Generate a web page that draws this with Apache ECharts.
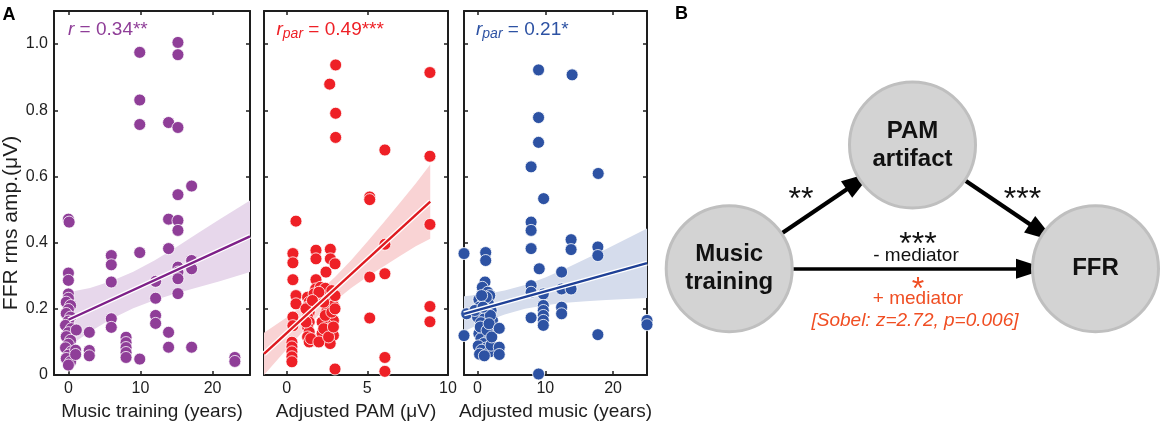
<!DOCTYPE html>
<html>
<head>
<meta charset="utf-8">
<script src="https://cdn.jsdelivr.net/npm/echarts@6/dist/echarts.min.js"></script>
</head>
<body style="margin:0">
<div id="container" style="width:1170px;height:422px"></div>
<script>
var FONT = '"Liberation Sans", Arial, sans-serif';

// ---- panel A: scatter values [x, y] ----
var trainingPts = [
  [0,0.471],[0.1,0.462],[0,0.308],[0,0.286],[0,0.245],[0,0.232],[-0.3,0.22],[0.3,0.21],
  [0,0.198],[-0.3,0.186],[0.3,0.175],[0,0.163],[-0.4,0.15],[0.4,0.14],[0,0.128],[-0.3,0.116],
  [0.3,0.105],[0,0.093],[-0.4,0.082],[0.4,0.07],[0,0.06],[-0.3,0.05],[0.3,0.04],[0,0.03],
  [1.1,0.136],[1.0,0.075],[1.0,0.062],
  [2.9,0.129],[2.9,0.074],[2.9,0.058],
  [5.95,0.361],[5.95,0.333],[5.95,0.281],[5.95,0.17],[5.95,0.144],
  [8,0.114],[8,0.098],[8,0.083],[8,0.068],[8,0.053],
  [9.9,0.975],[9.9,0.831],[9.9,0.757],[9.9,0.37],[9.9,0.048],
  [12.1,0.283],[12.1,0.232],[12.1,0.18],[12.1,0.156],
  [13.9,0.763],[13.9,0.471],[13.9,0.382],[13.9,0.129],[13.9,0.084],
  [15.2,1.005],[15.2,0.968],[15.2,0.748],[15.2,0.545],[15.2,0.467],[15.2,0.437],
  [15.2,0.326],[15.2,0.311],[15.2,0.291],[15.2,0.246],
  [17.1,0.571],[17.1,0.346],[17.1,0.321],[17.1,0.084],
  [23.1,0.053],[23.1,0.041]
];
var pamPts = [
  [0.58,0.465],[0.39,0.367],[0.39,0.339],[0.39,0.288],[0.58,0.24],[0.58,0.215],[0.39,0.175],
  [0.39,0.149],[0.33,0.099],[0.33,0.085],[0.33,0.07],[0.33,0.055],[0.33,0.04],
  [1.82,0.377],[1.82,0.351],[1.82,0.288],[2.71,0.38],[2.71,0.351],[3.0,0.336],[2.44,0.311],
  [1.3,0.235],[1.4,0.22],[1.3,0.205],[1.4,0.19],[1.3,0.175],[1.4,0.16],[1.3,0.145],[1.4,0.13],
  [1.3,0.115],[1.4,0.1],[1.2,0.2],[1.2,0.16],[1.5,0.11],
  [2.5,0.24],[2.7,0.225],[2.9,0.21],[2.5,0.195],[2.7,0.18],[2.9,0.165],[2.5,0.15],[2.7,0.135],
  [2.9,0.12],[2.5,0.105],[2.7,0.095],[2.2,0.125],[2.0,0.1],[2.2,0.16],
  [2.3,0.22],[2.4,0.18],[2.3,0.14],[2.6,0.115],[2.9,0.145],[2.8,0.19],
  [1.8,0.26],[2.1,0.265],[2.4,0.262],[1.7,0.245],[2.0,0.25],[2.8,0.255],[3.0,0.24],[1.6,0.225],[3.0,0.2],
  [3.0,0.018],[5.15,0.538],[5.15,0.53],[5.15,0.296],[5.15,0.172],
  [6.09,0.68],[6.09,0.395],[6.09,0.306],[6.09,0.053],[6.09,0.011],
  [8.88,0.914],[8.88,0.661],[8.88,0.455],[8.88,0.207],[8.88,0.161],
  [3.04,0.937],[2.67,0.879],[3.04,0.791],[3.04,0.718]
];
var adjMusicPts = [
  [-2,0.367],[-2,0.119],[1.2,0.37],[1.2,0.346],[-1.6,0.185],
  [1.1,0.281],[0.7,0.265],[1.5,0.25],[1.8,0.24],[0.2,0.228],[0.9,0.222],[1.6,0.215],[0.3,0.205],
  [1.2,0.2],[2.0,0.195],[0.6,0.19],[1.4,0.182],[0.0,0.175],[1.0,0.17],[2.2,0.165],[0.5,0.158],
  [1.5,0.15],[0.8,0.14],[1.8,0.135],[0.2,0.125],[1.2,0.12],[0.5,0.11],[1.6,0.105],[0.9,0.095],
  [0.1,0.088],[1.3,0.082],[0.6,0.075],[1.8,0.07],[0.3,0.063],[1.0,0.058],[2.0,0.09],[-0.4,0.195],
  [1.3,0.235],[0.6,0.24],[1.9,0.18],[0.4,0.145],[1.4,0.135],[2.1,0.115],[0.8,0.205],[1.7,0.155],
  [3.2,0.141],[3.2,0.084],[3.2,0.062],
  [7.9,0.629],[7.9,0.462],[7.9,0.437],[7.9,0.382],[7.9,0.27],[7.9,0.25],[7.9,0.173],
  [9.0,0.922],[9.0,0.778],[9.0,0.703],[9.1,0.321],[9.0,0.003],
  [9.75,0.533],[9.7,0.245],[9.7,0.21],[9.7,0.195],[9.7,0.18],[9.7,0.165],[9.7,0.15],
  [12.4,0.311],[12.4,0.26],[12.4,0.205],[12.4,0.185],
  [13.95,0.907],[13.8,0.409],[13.8,0.379],[13.8,0.26],
  [17.8,0.609],[17.75,0.387],[17.75,0.361],[17.75,0.122],
  [25,0.165],[25,0.152]
];

// ---- regression lines and confidence bands ----
var trainingFit = [[0,0.167],[25.2,0.419]];
var trainingBandX  = [0, 3, 6, 9, 12, 15, 18, 21, 25.2];
var trainingBandLo = [0.087,0.131,0.170,0.202,0.227,0.247,0.265,0.283,0.311];
var trainingBandHi = [0.250,0.263,0.284,0.312,0.347,0.387,0.429,0.471,0.527];

var pamFit = [[-1.4,0.064],[8.9,0.524]];
var pamBandX  = [-1.4, 0, 1, 2, 3, 4, 5, 6, 7, 8, 8.9];
var pamBandLo = [0.000,0.078,0.131,0.181,0.224,0.263,0.297,0.328,0.359,0.389,0.412];
var pamBandHi = [0.128,0.174,0.211,0.251,0.296,0.347,0.403,0.460,0.519,0.579,0.636];

var adjMusicFit = [[-2,0.185],[25,0.338]];
var adjMusicBandX  = [-2, 1, 4, 7, 10, 13, 16, 19, 22, 25];
var adjMusicBandLo = [0.132,0.160,0.183,0.200,0.211,0.218,0.223,0.227,0.230,0.233];
var adjMusicBandHi = [0.238,0.244,0.255,0.272,0.295,0.322,0.351,0.381,0.412,0.443];

// ---- ticks ----
var yTicks = [0, 0.2, 0.4, 0.6, 0.8, 1.0];
var trainingTicks = [0, 10, 20];
var pamTicks = [0, 5, 10];
var adjMusicTicks = [0, 10, 20];

// ---- panel B: mediation diagram ----
var nodeNames = ['Music\ntraining', 'PAM\nartifact', 'FFR'];
var linkPairs = [[0, 1], [1, 2], [0, 2]];

var nodeLayout = {
  left: 729.2, top: 145, width: 366.3, height: 123.7,
  x: [0, 183.3, 366.3], y: [123.7, 0, 123.7]
};

var AX = '#1e1e1e';
var PURPLE = '#8f3e98', RED = '#ee2026', BLUE = '#2d52a3';

var chart = echarts.init(document.getElementById('container'));

var grids = [
  {left: 54, top: 11, width: 196, height: 364, outerBoundsMode: 'none'},
  {left: 264, top: 11, width: 184, height: 364, outerBoundsMode: 'none'},
  {left: 464, top: 11, width: 183, height: 364, outerBoundsMode: 'none'}
];

var xAxes = [], yAxes = [];
function addAxes(gi, xmin, xmax, xticks, xname, showY) {
  var line = {show: true, onZero: false, lineStyle: {color: AX, width: 2}};
  xAxes.push({
    type: 'value', gridIndex: gi, position: 'bottom', min: xmin, max: xmax,
    axisLine: line,
    axisTick: {show: true, inside: true, length: 4, customValues: xticks, lineStyle: {color: AX, width: 1.5}},
    axisLabel: {show: true, customValues: xticks, color: AX, fontSize: 16, fontFamily: FONT, margin: 6},
    splitLine: {show: false},
    name: xname, nameLocation: 'middle', nameGap: 21,
    nameTextStyle: {color: AX, fontSize: 19, fontFamily: FONT}
  });
  xAxes.push({
    type: 'value', gridIndex: gi, position: 'top', min: xmin, max: xmax,
    axisLine: line,
    axisTick: {show: true, inside: true, length: 4, customValues: xticks, lineStyle: {color: AX, width: 1.5}},
    axisLabel: {show: false, customValues: xticks},
    splitLine: {show: false}
  });
  var yl = {
    type: 'value', gridIndex: gi, position: 'left', min: 0, max: 1.1,
    axisLine: line,
    axisTick: {show: true, inside: true, length: 4, customValues: yTicks, lineStyle: {color: AX, width: 1.5}},
    axisLabel: {show: showY, customValues: yTicks, color: AX, fontSize: 16, fontFamily: FONT, margin: 6,
      formatter: function (v) { return v === 0 ? '0' : v.toFixed(1); }},
    splitLine: {show: false}
  };
  if (showY) {
    yl.name = 'FFR rms amp.(\u03bcV)';
    yl.nameLocation = 'middle';
    yl.nameGap = 30;
    yl.nameTextStyle = {color: AX, fontSize: 21, fontFamily: FONT, padding: [0, 60, 0, 0]};
  }
  yAxes.push(yl);
  yAxes.push({
    type: 'value', gridIndex: gi, position: 'right', min: 0, max: 1.1,
    axisLine: line,
    axisTick: {show: true, inside: true, length: 4, customValues: yTicks, lineStyle: {color: AX, width: 1.5}},
    axisLabel: {show: false, customValues: yTicks},
    splitLine: {show: false}
  });
}
addAxes(0, -2, 25.2, trainingTicks, 'Music training (years)', true);
addAxes(1, -1.4, 10, pamTicks, 'Adjusted PAM (\u03bcV)', false);
addAxes(2, -2, 25, adjMusicTicks, 'Adjusted music (years)', false);

function bandSeries(gi, xs, lo, hi, color) {
  return {
    type: 'custom', xAxisIndex: 2 * gi, yAxisIndex: 2 * gi, silent: true,
    data: xs.map(function (x, i) { return [x, lo[i], hi[i]]; }),
    encode: {x: 0, y: [1, 2]},
    renderItem: function (params, api) {
      if (params.dataIndex !== 0) return;
      var up = [], dn = [];
      for (var i = 0; i < xs.length; i++) {
        up.push(api.coord([xs[i], hi[i]]));
        dn.unshift(api.coord([xs[i], lo[i]]));
      }
      return {type: 'polygon', shape: {points: up.concat(dn)}, style: {fill: color}};
    }
  };
}
function fitSeries(gi, pts, color, width) {
  return {
    type: 'line', xAxisIndex: 2 * gi, yAxisIndex: 2 * gi, data: pts, symbol: 'none',
    silent: true, lineStyle: {color: color, width: width}
  };
}
function dotSeries(gi, pts, color) {
  return {
    type: 'scatter', xAxisIndex: 2 * gi, yAxisIndex: 2 * gi, data: pts, clip: false,
    symbolSize: 12, itemStyle: {color: color, borderColor: '#fff', borderWidth: 0.8, opacity: 1}
  };
}

var series = [
  bandSeries(0, trainingBandX, trainingBandLo, trainingBandHi, '#e7d7eb'),
  bandSeries(1, pamBandX, pamBandLo, pamBandHi, '#f9d3d4'),
  bandSeries(2, adjMusicBandX, adjMusicBandLo, adjMusicBandHi, '#d5dcec'),
  fitSeries(0, trainingFit, '#fff', 5),
  fitSeries(1, pamFit, '#fff', 5),
  fitSeries(2, adjMusicFit, '#fff', 5),
  fitSeries(0, trainingFit, '#7e2088', 2.4),
  fitSeries(1, pamFit, '#de1a1f', 2.4),
  fitSeries(2, adjMusicFit, '#1f4096', 2.4),
  dotSeries(0, trainingPts, PURPLE),
  dotSeries(1, pamPts, RED),
  dotSeries(2, adjMusicPts, BLUE),
  {
    type: 'graph', layout: 'none', silent: true,
    left: nodeLayout.left, top: nodeLayout.top, width: nodeLayout.width, height: nodeLayout.height,
    symbol: 'circle', symbolSize: 126,
    itemStyle: {color: '#d3d3d3', borderColor: '#bfbfbf', borderWidth: 3, opacity: 1},
    label: {show: true, position: 'inside', color: '#111', fontFamily: FONT, fontSize: 24,
      fontWeight: 'bold', lineHeight: 28},
    data: nodeNames.map(function (n, i) { return {name: n, x: nodeLayout.x[i], y: nodeLayout.y[i]}; }),
    links: []
  },
  {
    type: 'graph', layout: 'none', silent: true,
    left: nodeLayout.left, top: nodeLayout.top, width: nodeLayout.width, height: nodeLayout.height,
    symbol: 'circle', symbolSize: 128, itemStyle: {opacity: 0}, label: {show: false},
    edgeSymbol: ['circle', 'path://M0,0L10,30L-10,30Z'],
    edgeSymbolSize: [0, [20, 31]],
    data: nodeNames.map(function (n, i) { return {name: n, x: nodeLayout.x[i], y: nodeLayout.y[i]}; }),
    links: linkPairs.map(function (p, i) {
      return {source: p[0], target: p[1], lineStyle: {width: i === 2 ? 3.5 : 4.2}};
    }),
    lineStyle: {color: '#000', opacity: 1, curveness: 0}
  }
];

function txt(x, y, text, opts) {
  var st = {
    text: text, x: 0, y: 0, fill: opts.fill || '#111',
    fontFamily: FONT, fontSize: opts.size || 19, fontWeight: opts.weight || 'normal',
    fontStyle: opts.style || 'normal',
    align: opts.align || 'center', verticalAlign: 'middle',
    textAlign: opts.align || 'center', textVerticalAlign: 'middle'
  };
  if (opts.rich) { st.rich = opts.rich; st.lineHeight = 22; }
  return {type: 'text', x: x, y: y, silent: true, z: 100, style: st};
}
var stat = {
  i: {fontStyle: 'italic', fontSize: 19, lineHeight: 22},
  s: {fontStyle: 'italic', fontSize: 14, lineHeight: 14, verticalAlign: 'bottom'}
};
var ORANGE = '#f04e23';

var option = {
  animation: false,
  backgroundColor: '#fff',
  grid: grids,
  xAxis: xAxes,
  yAxis: yAxes,
  series: series,
  graphic: [
    txt(9, 15, 'A', {size: 18, weight: 'bold', fill: '#000'}),
    txt(681.5, 14, 'B', {size: 18, weight: 'bold', fill: '#000'}),
    txt(68, 30, '{i|r} = 0.34**', {size: 19, fill: PURPLE, align: 'left', rich: stat}),
    txt(276.5, 30, '{i|r}{s|par} = 0.49***', {size: 19, fill: RED, align: 'left', rich: stat}),
    txt(476, 30, '{i|r}{s|par} = 0.21*', {size: 19, fill: BLUE, align: 'left', rich: stat}),
    txt(801, 200, '**', {size: 32}),
    txt(1022.5, 200, '***', {size: 32}),
    txt(918, 245, '***', {size: 32}),
    txt(916, 256, '- mediator', {size: 19}),
    txt(918, 290, '*', {size: 32, fill: ORANGE}),
    txt(918, 299, '+ mediator', {size: 19, fill: ORANGE}),
    txt(915, 321, '[Sobel: z=2.72, p=0.006]', {size: 19, fill: ORANGE, style: 'italic'})
  ]
};
chart.setOption(option);
</script>
</body>
</html>
